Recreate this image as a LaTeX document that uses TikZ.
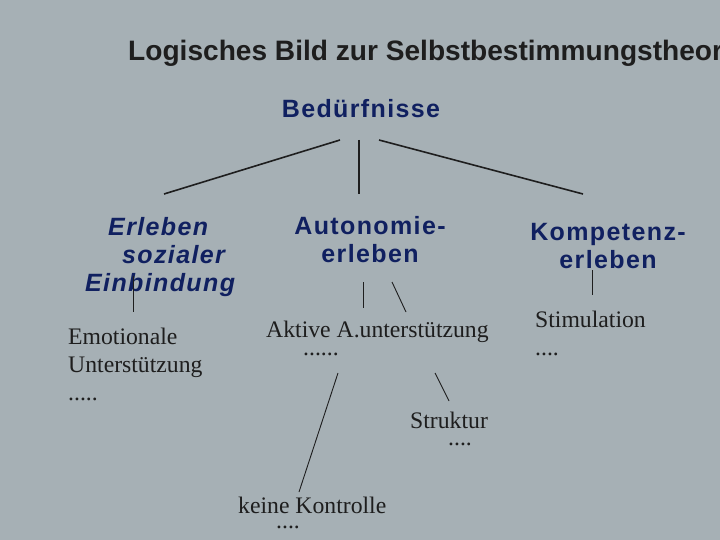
\documentclass[tikz,border=0pt]{standalone}
\usepackage{fontspec}
\setmainfont{Liberation Serif}
\setsansfont{Liberation Sans}
\definecolor{bg}{RGB}{166,176,181}
\definecolor{navy}{RGB}{16,32,96}
\definecolor{ink}{RGB}{30,30,30}
\begin{document}
\begin{tikzpicture}[x=1pt,y=-1pt,
  titlestyle/.style={font=\sffamily\bfseries\fontsize{28.1}{32}\selectfont, text=ink, inner sep=0},
  head/.style={font=\sffamily\bfseries\fontsize{25}{27.5}\selectfont\addfontfeature{LetterSpace=5.5}, text=navy, inner sep=0, align=center},
  headit/.style={font=\sffamily\bfseries\itshape\fontsize{25}{28}\selectfont\addfontfeature{LetterSpace=5.5}, text=navy, inner sep=0, align=left},
  leaf/.style={font=\rmfamily\fontsize{23.7}{28}\selectfont, text=ink, inner sep=0, align=left},
  thickline/.style={ink, line width=1.6pt},
  thinline/.style={ink, line width=0.9pt}]
\useasboundingbox (0,0) rectangle (720,540);
\fill[bg] (0,0) rectangle (720,540);
\begin{scope}
\clip (0,0) rectangle (720,540);
\node[titlestyle, anchor=base west] (title) at (128,61) {Logisches Bild zur Selbstbestimmungstheorie};
\end{scope}
\node[head, anchor=base] (bed) at (361,118) {Bedürfnisse};
\node[head, anchor=base] (aut) at (370,262) {Autonomie-\\erleben};
\node[head, anchor=base] (kom) at (608,268) {Kompetenz-\\erleben};
\node[headit, anchor=base west] (soz) at (85,291) {\hspace*{23pt}Erleben\\\hspace*{37pt}sozialer\\Einbindung};
\node[leaf, anchor=base west] (emo) at (68,400) {Emotionale\\Unterstützung\\.....};
\node[leaf, anchor=base west] (akt) at (266,355) {Aktive A.unterstützung\\[-10pt]\hspace*{37pt}......};
\node[leaf, anchor=base west] (stim) at (535,355) {Stimulation\\....};
\node[leaf, anchor=base west] (str) at (410,445) {Struktur\\[-11pt]\hspace*{38pt}....};
\node[leaf, anchor=base west] (kein) at (238,528) {keine Kontrolle\\[-13pt]\hspace*{38pt}....};
% connector end points
\coordinate (b1) at (340,140); \coordinate (s1) at (164,194);
\coordinate (b2) at (359,140); \coordinate (a1) at (359,194);
\coordinate (b3) at (379,140); \coordinate (k1) at (583,194);
\coordinate (s2) at (133,276); \coordinate (e1) at (133,312);
\coordinate (a2) at (363,282); \coordinate (ak1) at (363,308);
\coordinate (a3) at (392,282); \coordinate (ak2) at (406,312);
\coordinate (k2) at (592,270); \coordinate (st1) at (592,295);
\coordinate (ak3) at (338,373); \coordinate (ke1) at (299,492);
\coordinate (ak4) at (435,373); \coordinate (sr1) at (449,401);
\draw[thickline] (b1) -- (s1);
\draw[thickline] (b2) -- (a1);
\draw[thickline] (b3) -- (k1);
\draw[thinline] (s2) -- (e1);
\draw[thinline] (a2) -- (ak1);
\draw[thinline] (a3) -- (ak2);
\draw[thinline] (k2) -- (st1);
\draw[thinline] (ak3) -- (ke1);
\draw[thinline] (ak4) -- (sr1);
\end{tikzpicture}
\end{document}
